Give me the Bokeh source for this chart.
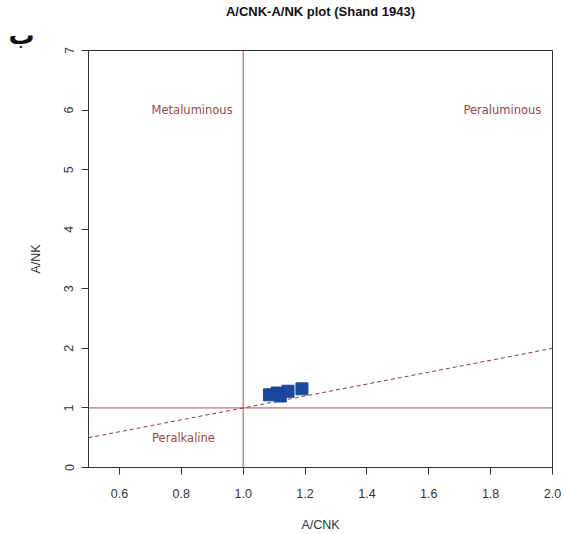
from bokeh.plotting import figure
from bokeh.models import Range1d, Title, FixedTicker
from bokeh.embed import file_html
from bokeh.resources import INLINE

# Sample compositions
acnk = [1.085, 1.11, 1.12, 1.145, 1.19]
ank = [1.22, 1.25, 1.20, 1.28, 1.32]

# Field boundaries (Shand 1943)
vline_x = [1.0, 1.0]
vline_y = [0.0, 7.0]
hline_x = [0.5, 2.0]
hline_y = [1.0, 1.0]
diag_x = [0.5, 2.0]
diag_y = [0.5, 2.0]

# Field names and their anchor positions
field_names = ["Metaluminous", "Peraluminous", "Peralkaline"]
field_x = [0.835, 1.838, 0.807]
field_y = [6.0, 6.0, 0.49]

x_ticks = [0.6, 0.8, 1.0, 1.2, 1.4, 1.6, 1.8, 2.0]
y_ticks = [0, 1, 2, 3, 4, 5, 6, 7]

FONT = "Liberation Sans"
LINE_COL = "#A35757"
TEXT_COL = "#964848"

p = figure(width=566, height=534, output_backend="svg", toolbar_location=None,
           x_range=Range1d(0.5, 2.0), y_range=Range1d(0, 7),
           min_border_left=88, min_border_right=14,
           min_border_top=50, min_border_bottom=67)
p.title = None
p.grid.visible = False
p.outline_line_color = "#333333"
p.outline_line_width = 1
p.background_fill_color = "white"
p.border_fill_color = "white"

for ax in (p.xaxis[0], p.yaxis[0]):
    ax.axis_line_color = "#333333"
    ax.major_tick_line_color = "#333333"
    ax.major_tick_out = 7
    ax.major_tick_in = 0
    ax.minor_tick_line_color = None
    ax.major_label_text_font = FONT
    ax.major_label_text_font_size = "12.5px"
    ax.major_label_text_color = "#333333"
    ax.axis_label_text_font = FONT
    ax.axis_label_text_font_size = "12.5px"
    ax.axis_label_text_font_style = "normal"
    ax.axis_label_text_color = "#333333"

p.xaxis.ticker = FixedTicker(ticks=x_ticks)
p.xaxis.major_label_overrides = {t: f"{t:.1f}" for t in x_ticks}
p.xaxis.major_label_standoff = 14
p.xaxis.axis_label = "A/CNK"
p.xaxis.axis_label_standoff = 17

p.yaxis.ticker = FixedTicker(ticks=y_ticks)
p.yaxis.major_label_orientation = "vertical"
p.yaxis.major_label_standoff = 8
p.yaxis.axis_label = "A/NK"
p.yaxis.axis_label_standoff = 19

# Boundaries
p.line(vline_x, vline_y, line_color=LINE_COL, line_width=1)
p.line(hline_x, hline_y, line_color=LINE_COL, line_width=1)
p.line(diag_x, diag_y, line_color="#8B3A46", line_width=1, line_dash="4 3")

# Field names
p.text(x=field_x, y=field_y, text=field_names, text_color=TEXT_COL,
       text_font_size="11.5px", text_align="center", text_baseline="middle",
       text_font={"value": "DejaVu Sans"})

# Samples
p.scatter(acnk, ank, marker="square", size=12, fill_color="#1B479E",
          line_color="#1B479E")

# Panel letter (closest to the frame) and main title (outermost)
p.add_layout(Title(text="\u200eب\u200e", text_font="DejaVu Sans", text_font_size="26px",
                   text_font_style="bold", text_color="#111111",
                   text_line_height=0.9, vertical_align="middle",
                   align="left", offset=-80, standoff=0), "above")
p.add_layout(Title(text="A/CNK-A/NK plot (Shand 1943)", text_font=FONT,
                   text_font_size="13px", text_font_style="bold",
                   text_color="#111111", text_line_height=1.2,
                   vertical_align="bottom",
                   align="center", standoff=0), "above")

open("out.html", "w").write(file_html(p, INLINE))
